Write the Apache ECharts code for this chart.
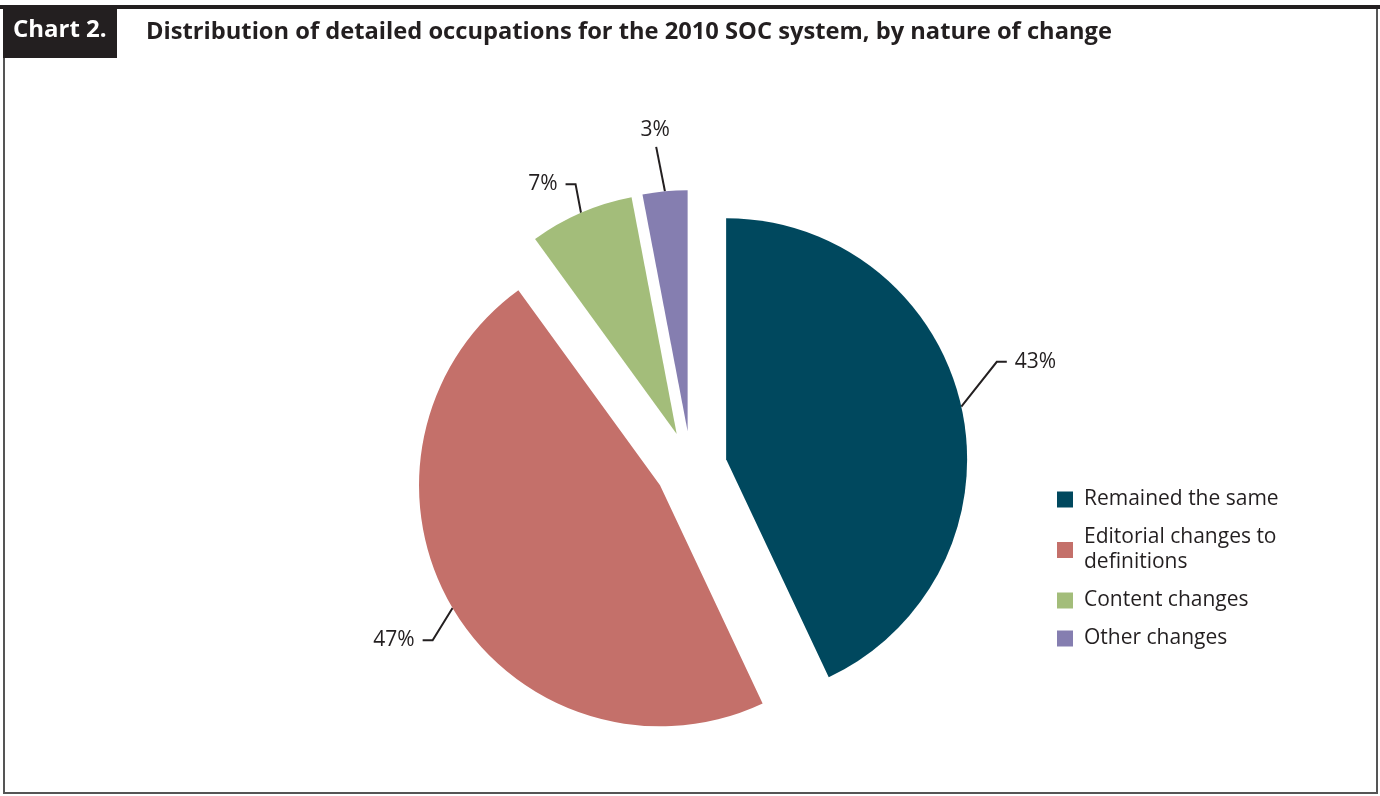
<!DOCTYPE html>
<html>
<head>
<meta charset="utf-8">
<script src="https://cdn.jsdelivr.net/npm/echarts@6/dist/echarts.min.js"></script>
<style>
  html, body { margin: 0; padding: 0; background: #fff; }
  #pie_chart { width: 1380px; height: 796px; }
</style>
</head>
<body>
<div id="pie_chart"></div>
<script>
var categories = ['Remained the same', 'Editorial changes to definitions', 'Content changes', 'Other changes'];
var shares = [43, 47, 7, 3];
var colors = ['#00485e', '#c4706a', '#a3bd7a', '#857eb0'];
var legendNames = {
    'Editorial changes to definitions': 'Editorial changes to\ndefinitions'
};
// nudges for the outside labels, per slice [dx, dy, label sits above its line?]
var labelShift = [[17, -40, false], [-4, 21, false], [2, -11, false], [22, -39, true]];

var pieData = categories.map(function (name, i) {
    return {
        name: name,
        value: shares[i],
        selected: true,
        itemStyle: { color: colors[i] }
    };
});

var pie_chart = echarts.init(document.getElementById('pie_chart'));
var pie_option = {
    animation: false,
    textStyle: { fontFamily: '"Open Sans", sans-serif' },
    graphic: [
        {
            type: 'rect',
            shape: { x: 4, y: 8, width: 1373, height: 785 },
            style: { fill: 'none', stroke: '#555', lineWidth: 2 }
        },
        {
            type: 'rect',
            shape: { x: 0, y: 5, width: 1380, height: 4 },
            style: { fill: '#231f20' }
        },
        {
            type: 'rect',
            shape: { x: 3, y: 9, width: 114, height: 49 },
            style: { fill: '#231f20' }
        },
        {
            type: 'text',
            left: 13,
            top: 18,
            style: {
                text: 'Chart 2.',
                fill: '#fff',
                font: 'bold 24px "Open Sans", sans-serif'
            }
        }
    ],
    title: {
        text: 'Distribution of detailed occupations for the 2010 SOC system, by nature of change',
        left: 141,
        top: 15,
        textStyle: {
            fontSize: 23.7,
            fontWeight: 'bold',
            color: '#231f20',
            fontFamily: '"Open Sans", sans-serif'
        }
    },
    legend: {
        orient: 'vertical',
        left: 1052,
        top: 482,
        itemWidth: 16,
        itemHeight: 16,
        itemGap: 13,
        icon: 'rect',
        formatter: function (name) {
            return legendNames[name] || name;
        },
        textStyle: {
            fontSize: 21,
            color: '#231f20',
            lineHeight: 25,
            padding: [0, 0, 0, 6]
        },
        selectedMode: false
    },
    series: [
        {
            type: 'pie',
            center: [691, 467],
            radius: 241,
            startAngle: 90,
            selectedMode: 'multiple',
            selectedOffset: 36,
            data: pieData,
            label: {
                show: true,
                formatter: '{c}%',
                fontSize: 21,
                color: '#231f20'
            },
            labelLine: {
                show: true,
                length: 22,
                length2: 10,
                lineStyle: { color: '#231f20', width: 2 }
            },
            labelLayout: function (params) {
                var s = labelShift[params.dataIndex];
                var r = params.labelRect;
                var pts = params.labelLinePoints;
                if (!pts) {
                    return { dx: s[0], dy: s[1] };
                }
                var x = r.x + s[0], y = r.y + s[1];
                var p0 = pts[0], p1, p2;
                if (s[2]) {
                    p1 = [x + r.width / 2 + 1, y + r.height + 6];
                    p2 = p1;
                } else {
                    var cy = y + r.height / 2;
                    if (p0[0] < x) {
                        p2 = [x - 8, cy];
                        p1 = [x - 18, cy];
                    } else {
                        p2 = [x + r.width + 8, cy];
                        p1 = [x + r.width + 18, cy];
                    }
                }
                return { dx: s[0], dy: s[1], labelLinePoints: [p0, p1, p2] };
            },
            emphasis: { disabled: true }
        }
    ]
};
pie_chart.setOption(pie_option);

window.addEventListener('resize', function () {
    pie_chart.resize();
});
</script>
</body>
</html>
